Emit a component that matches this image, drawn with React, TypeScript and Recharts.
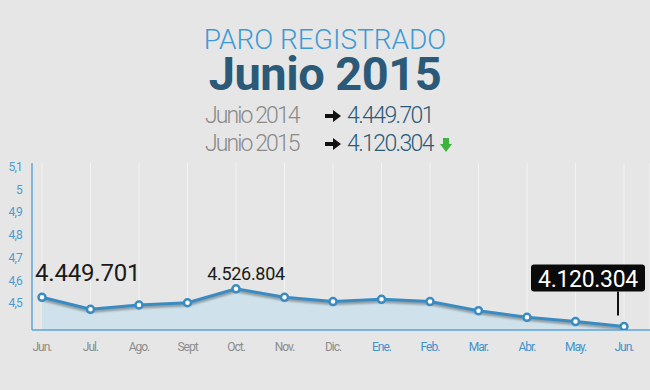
import { ComposedChart, Area, Line, XAxis, YAxis, CartesianGrid, LabelList } from 'recharts';

const meses = ['Jun.', 'Jul.', 'Ago.', 'Sept', 'Oct.', 'Nov.', 'Dic.', 'Ene.', 'Feb.', 'Mar.', 'Abr.', 'May.', 'Jun.'];
const anios = [2014, 2014, 2014, 2014, 2014, 2014, 2014, 2015, 2015, 2015, 2015, 2015, 2015];
// millones de parados (leído sobre la escala del eje)
const paro = [4.525, 4.472, 4.491, 4.501, 4.562, 4.525, 4.506, 4.516, 4.506, 4.466, 4.437, 4.418, 4.396];
const etiquetas = ['4.449.701', '', '', '', '4.526.804', '', '', '', '', '', '', '', '4.120.304'];
const yTicks = [4.5, 4.6, 4.7, 4.8, 4.9, 5, 5.1];

const data = meses.map((mes, i) => ({ mes, anio: anios[i], paro: paro[i], etiqueta: etiquetas[i] }));

const AZUL = '#3a8bc2';
const AZUL_OSCURO = '#2a5a78';

const MesTick = (props: any) => {
  const { x, y, payload, index } = props;
  const color = anios[index] === 2015 ? '#3f92cc' : '#8c8c8c';
  return (
    <text x={x} y={y} dy={13} textAnchor="middle" fill={color} fontSize={12} letterSpacing={-1} fontFamily="Roboto">
      {payload.value}
    </text>
  );
};

const Etiqueta = (props: any) => {
  const { x, y, index, value } = props;
  if (!value) return null;
  const last = index === paro.length - 1;
  if (index === 0) {
    return (
      <text x={x - 7} y={y - 16} fill="#1a1a1a" fontSize={24} fontFamily="Roboto" letterSpacing={-0.2}>
        {value}
      </text>
    );
  }
  if (last) {
    return (
      <g>
        <line x1={x - 6} y1={y - 35} x2={x - 6} y2={y - 11} stroke="#111" strokeWidth={2} />
        <rect x={x - 93} y={y - 62} width={114} height={27} rx={3} fill="#0a0a0a" />
        <text x={x - 36} y={y - 40} textAnchor="middle" fill="#fff" fontSize={23} fontFamily="Roboto" letterSpacing={-0.3}>
          {value}
        </text>
      </g>
    );
  }
  return (
    <text x={x + 10} y={y - 9} textAnchor="middle" fill="#1a1a1a" fontSize={18} fontFamily="Roboto" letterSpacing={-0.3}>
      {value}
    </text>
  );
};

const Flecha = ({ color = '#111' }: { color?: string }) => (
  <svg width={16} height={12} style={{ position: 'absolute' }} viewBox="0 0 16 12">
    <polygon points="0,4 8,4 8,0 16,6 8,12 8,8 0,8" fill={color} />
  </svg>
);

export default function App() {
  return (
    <div
      style={{
        position: 'absolute',
        left: 0,
        top: 0,
        width: 650,
        height: 390,
        background: '#e6e6e6',
        fontFamily: 'Roboto',
        overflow: 'hidden',
      }}
    >
      <style>{`.recharts-line-curve { filter: drop-shadow(0 2px 1px rgba(0,0,0,0.35)); }`}</style>
      <div style={{ position: 'absolute', left: 0, width: 650, top: 29, textAlign: 'center', fontSize: 28, fontWeight: 300, color: '#3d9ad6', lineHeight: '22px' }}>
        PARO REGISTRADO
      </div>
      <div style={{ position: 'absolute', left: 0, width: 650, top: 53, textAlign: 'center', fontSize: 47, fontWeight: 700, color: AZUL_OSCURO, lineHeight: '42px', letterSpacing: -0.5 }}>
        Junio 2015
      </div>
      <div style={{ position: 'absolute', left: 205, top: 102, fontSize: 23, fontWeight: 300, color: '#8a8a8a', letterSpacing: -1.9, lineHeight: '28px' }}>
        Junio 2014
      </div>
      <div style={{ position: 'absolute', left: 325, top: 110 }}>
        <Flecha />
      </div>
      <div style={{ position: 'absolute', left: 347, top: 102, fontSize: 23, fontWeight: 300, color: AZUL_OSCURO, letterSpacing: -1.6, lineHeight: '28px' }}>
        4.449.701
      </div>
      <div style={{ position: 'absolute', left: 205, top: 130, fontSize: 23, fontWeight: 300, color: '#8a8a8a', letterSpacing: -1.9, lineHeight: '28px' }}>
        Junio 2015
      </div>
      <div style={{ position: 'absolute', left: 325, top: 138 }}>
        <Flecha />
      </div>
      <div style={{ position: 'absolute', left: 347, top: 130, fontSize: 23, fontWeight: 300, color: AZUL_OSCURO, letterSpacing: -1.6, lineHeight: '28px' }}>
        4.120.304
      </div>
      <svg width={12} height={14} viewBox="0 0 12 14" style={{ position: 'absolute', left: 440, top: 138 }}>
        <polygon points="3,0 9,0 9,6 12,6 6,14 0,6 3,6" fill="#3cb43c" />
      </svg>

      <div style={{ position: 'absolute', left: 0, top: 0 }}>
        <ComposedChart width={650} height={390} data={data} margin={{ top: 163, right: 0, bottom: 30, left: 0 }}>
          <CartesianGrid horizontal={false} stroke="#f3f3f3" strokeWidth={1} />
          <XAxis
            dataKey="mes"
            padding={{ left: 10, right: 26 }}
            axisLine={{ stroke: '#5aa5d8', strokeWidth: 1.5 }}
            tickLine={false}
            tick={<MesTick />}
            interval={0}
            height={30}
          />
          <YAxis
            type="number"
            domain={[4.381, 5.116]}
            ticks={yTicks}
            width={32}
            axisLine={{ stroke: '#5aa5d8', strokeWidth: 1.5 }}
            tickLine={false}
            tickMargin={4}
            tick={{ fill: '#4b9bd2', fontSize: 12, fontFamily: 'Roboto', letterSpacing: -0.8 }}
            tickFormatter={(v: number) => String(v).replace('.', ',')}
            allowDataOverflow
          />
          <Area type="linear" dataKey="paro" fill="#cfe1ea" fillOpacity={1} stroke="none" isAnimationActive={false} />
          <Line
            type="linear"
            dataKey="paro"
            stroke={AZUL}
            strokeWidth={3}
            dot={{ r: 3.5, fill: '#ffffff', stroke: AZUL, strokeWidth: 2.5 }}
            isAnimationActive={false}
          >
            <LabelList dataKey="etiqueta" content={<Etiqueta />} />
          </Line>
        </ComposedChart>
      </div>
    </div>
  );
}
